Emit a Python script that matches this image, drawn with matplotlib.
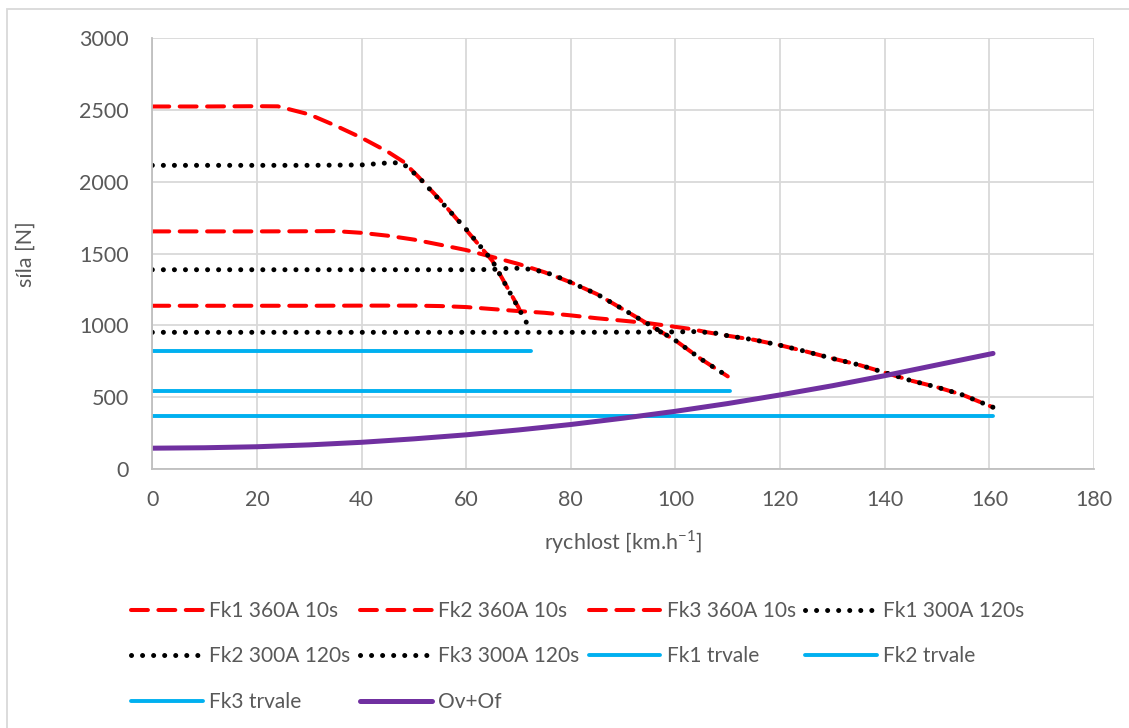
import matplotlib
matplotlib.use("Agg")
from matplotlib import pyplot as plt
from matplotlib.patches import Rectangle
import numpy as np

# data (speed km/h, force N)
v_fk1_360 = [0, 10, 20, 24, 30, 35, 40, 45, 48, 51, 55, 60, 65, 70, 71]
f_fk1_360 = [2525, 2525, 2527, 2526, 2470, 2392, 2307, 2210, 2140, 2030, 1875, 1665, 1450, 1125, 1040]

v_fk2_360 = [0, 10, 20, 30, 35, 40, 45, 50, 55, 60, 65, 70, 72, 75, 80, 85, 90, 95, 100, 105, 110]
f_fk2_360 = [1655, 1655, 1655, 1656, 1657, 1645, 1625, 1598, 1562, 1525, 1477, 1428, 1405, 1370,
             1300, 1218, 1112, 1005, 895, 763, 645]

v_fk3_360 = [0, 10, 20, 30, 40, 50, 55, 60, 65, 70, 75, 80, 85, 90, 95, 100, 103, 106, 110,
             115, 120, 125, 130, 135, 140, 145, 150, 155, 160, 160.7]
f_fk3_360 = [1137, 1137, 1137, 1137, 1138, 1138, 1135, 1128, 1114, 1100, 1088, 1070, 1050, 1033,
             1015, 990, 975, 953, 928, 900, 862, 818, 770, 726, 672, 616, 570, 515, 440, 430]

v_fk1_300 = [0, 10, 20, 30, 40, 46, 48, 51, 55, 60, 65, 70, 72.2]
f_fk1_300 = [2115, 2115, 2115, 2115, 2118, 2135, 2125, 2030, 1870, 1670, 1450, 1120, 975]

v_fk2_300 = [0, 10, 20, 30, 40, 50, 60, 65, 69, 72, 75, 77, 80, 85, 90, 95, 100, 105, 110]
f_fk2_300 = [1388, 1388, 1388, 1388, 1388, 1388, 1388, 1390, 1400, 1392, 1372, 1346, 1300,
             1218, 1112, 1005, 895, 763, 645]

v_fk3_300 = [0, 10, 20, 30, 40, 50, 60, 70, 80, 90, 100, 104, 108, 110, 115, 120, 125, 130,
             135, 140, 145, 150, 155, 160, 160.7]
f_fk3_300 = [952, 952, 952, 952, 952, 952, 952, 952, 952, 953, 955, 957, 945, 928, 900, 862,
             818, 770, 726, 672, 616, 570, 515, 440, 430]

v_fk1_trv = [0, 72.4]
f_fk1_trv = [820, 820]
v_fk2_trv = [0, 110.4]
f_fk2_trv = [540, 540]
v_fk3_trv = [0, 160.7]
f_fk3_trv = [371, 371]

v_odpor = [0, 10, 20, 30, 40, 50, 60, 70, 80, 90, 100, 110, 120, 130, 140, 150, 160.7]
f_odpor = [145, 148, 155, 168, 186, 210, 238, 272, 310, 354, 402, 456, 516, 580, 650, 725, 805]

gray = '#595959'
plt.rcParams['font.family'] = ['Lato', 'DejaVu Sans']
plt.rcParams['font.size'] = 15.5

fig = plt.figure(figsize=(11.29, 7.28), dpi=100)
ax = fig.add_axes([152.3 / 1129, 1 - 469 / 728, (1094 - 152.3) / 1129, (469 - 38.3) / 728])

red = dict(color='#FF0000', lw=2.9, ls=(0, (4.2, 2.6)), dash_capstyle='round')
dot = dict(color='black', lw=3.6, ls=(0, (0.01, 2.2)), dash_capstyle='round')
blue = dict(color='#00B0F0', lw=2.8, solid_capstyle='round')

h1, = ax.plot(v_fk1_360, f_fk1_360, label='Fk1 360A 10s', **red)
h2, = ax.plot(v_fk2_360, f_fk2_360, label='Fk2 360A 10s', **red)
h3, = ax.plot(v_fk3_360, f_fk3_360, label='Fk3 360A 10s', **red)
h4, = ax.plot(v_fk1_300, f_fk1_300, label='Fk1 300A 120s', **dot)
h5, = ax.plot(v_fk2_300, f_fk2_300, label='Fk2 300A 120s', **dot)
h6, = ax.plot(v_fk3_300, f_fk3_300, label='Fk3 300A 120s', **dot)
h7, = ax.plot(v_fk1_trv, f_fk1_trv, label='Fk1 trvale', **blue)
h8, = ax.plot(v_fk2_trv, f_fk2_trv, label='Fk2 trvale', **blue)
h9, = ax.plot(v_fk3_trv, f_fk3_trv, label='Fk3 trvale', **blue)
h10, = ax.plot(v_odpor, f_odpor, label='Ov+Of', color='#7030A0', lw=3.6, solid_capstyle='round')

ax.set_xlim(0, 180)
ax.set_ylim(0, 3000)
ax.set_xticks(np.arange(0, 181, 20))
ax.set_yticks(np.arange(0, 3001, 500))
ax.grid(True, color='#D9D9D9', lw=1.3)
ax.set_axisbelow(True)
for side in ['top', 'right']:
    ax.spines[side].set_visible(False)
for side in ['left', 'bottom']:
    ax.spines[side].set_color('#BFBFBF')
    ax.spines[side].set_linewidth(1.3)
ax.tick_params(length=0, colors=gray, labelsize=15.5)
ax.tick_params(axis='y', pad=17)
ax.tick_params(axis='x', pad=15)

ax.set_ylabel('síla [N]', color=gray, fontsize=15.5)
ax.set_xlabel(r'rychlost [km.h$^{\mathregular{-1}}$]', color=gray, fontsize=15.5)
ax.yaxis.set_label_coords(-0.124, 0.5)
ax.xaxis.set_label_coords(0.5, -0.138)

# legend filled column by column so it reads row by row like the original
order = [h1, h5, h9, h2, h6, h10, h3, h7, h4, h8]
leg = fig.legend(handles=order, labels=[h.get_label() for h in order], ncol=4,
                 loc='upper left', bbox_to_anchor=(131 / 1129, 1 - 601 / 728),
                 frameon=False, fontsize=15, handlelength=3.45, handletextpad=0.3,
                 columnspacing=0.45, labelspacing=1.22, borderpad=0, borderaxespad=0)
for t in leg.get_texts():
    t.set_color(gray)

fig.add_artist(Rectangle((7 / 1129, -0.1), 1.2, 1.1 - 9 / 728, transform=fig.transFigure,
                         fill=False, ec='#D9D9D9', lw=1.3))

fig.savefig('out.png', dpi=100)
